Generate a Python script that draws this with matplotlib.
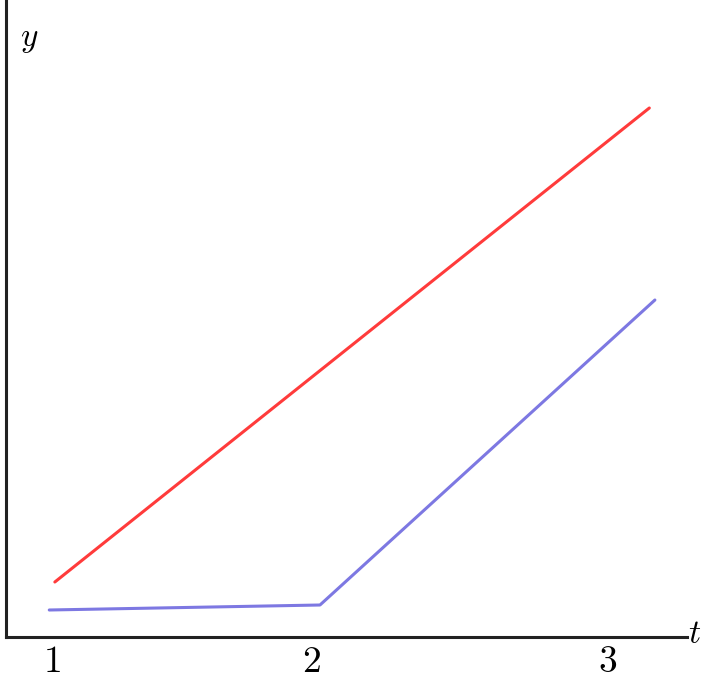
import matplotlib
matplotlib.use("Agg")
import matplotlib.pyplot as plt

plt.rcParams['mathtext.fontset'] = 'cm'

# data (arbitrary units)
red_t = [1.01, 3.14]
red_y = [0.55, 5.29]
blue_t = [0.99, 1.96, 3.16]
blue_y = [0.27, 0.32, 3.37]

tick_pos = [1.0, 1.93, 2.99]
tick_labels = ["1", "2", "3"]

fig = plt.figure(figsize=(7.06, 6.81), dpi=100)
ax = fig.add_axes([6 / 706, 44 / 681, 681 / 706, 637 / 681])

ax.plot(red_t, red_y, color="#ff3b3b", lw=2.2, solid_capstyle="round")
ax.plot(blue_t, blue_y, color="#7d78e2", lw=2.2, solid_capstyle="round")

ax.set_xlim(0.835, 3.275)
ax.set_ylim(0, 6.37)

for s in ["top", "right"]:
    ax.spines[s].set_visible(False)
for s in ["left", "bottom"]:
    ax.spines[s].set_linewidth(2.2)
    ax.spines[s].set_color("#222222")

ax.set_yticks([])
ax.set_xticks(tick_pos)
ax.set_xticklabels(["$%s$" % l for l in tick_labels], fontsize=27)
ax.tick_params(axis="x", length=0, pad=5)

ax.text(0.02, 0.94, "$y$", transform=ax.transAxes, fontsize=24,
        ha="left", va="center")
ax.text(1.002, 0.005, "$t$", transform=ax.transAxes, fontsize=24,
        ha="left", va="center")

fig.savefig("out.png", dpi=100)
